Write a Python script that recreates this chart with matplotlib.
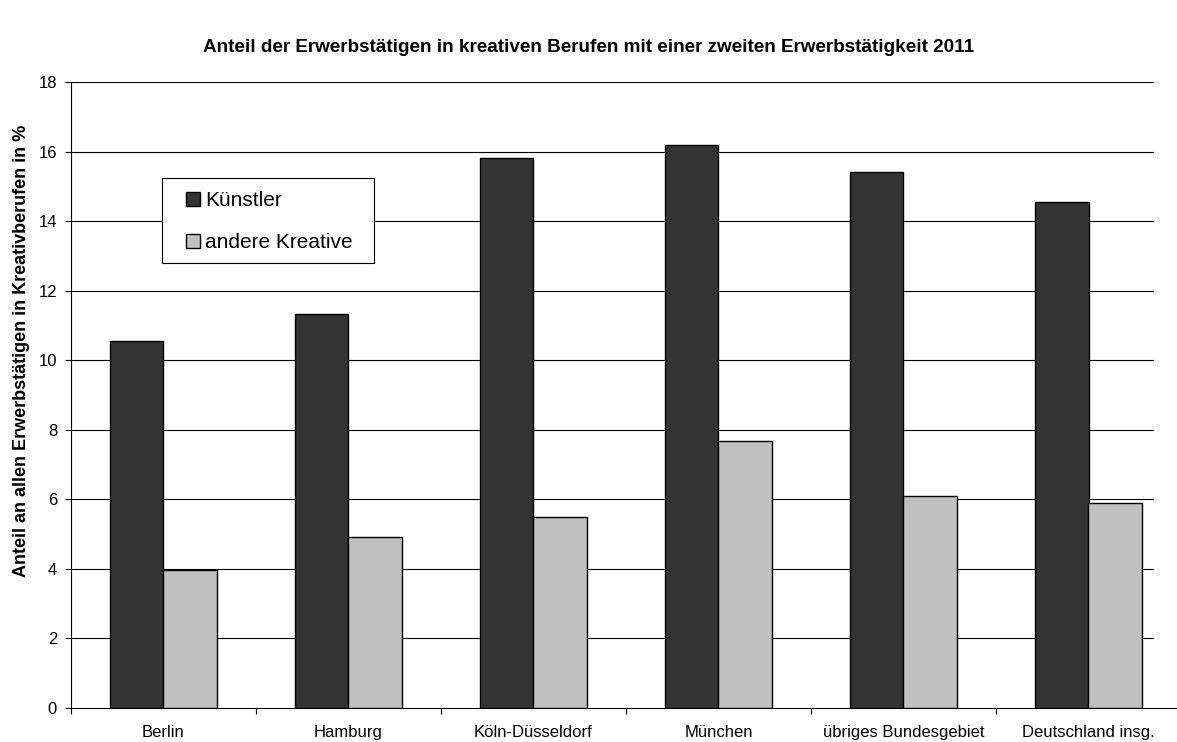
import numpy as np
import matplotlib
matplotlib.use("Agg")
import matplotlib.pyplot as plt
from matplotlib.patches import Rectangle

plt.rcParams['font.family'] = ['Liberation Sans', 'DejaVu Sans']

regionen = ['Berlin', 'Hamburg', 'Köln-Düsseldorf', 'München',
            'übriges Bundesgebiet', 'Deutschland insg.']
kuenstler = [10.55, 11.33, 15.81, 16.2, 15.42, 14.54]
andere = [3.97, 4.92, 5.49, 7.67, 6.11, 5.89]

W, H = 1177, 742
fig = plt.figure(figsize=(W / 100, H / 100), dpi=100)
# the chart is cropped on the right in the original, so the axes runs past the edge
ax = fig.add_axes([71 / W, 34 / H, 1110 / W, 626 / H])

x = np.arange(len(regionen))
w = 0.29
ax.bar(x - w / 2, kuenstler, w, color='#333333', edgecolor='black', linewidth=1,
       label='Künstler', zorder=3)
ax.bar(x + w / 2, andere, w, color='#c0c0c0', edgecolor='black', linewidth=1,
       label='andere Kreative', zorder=3)

ax.set_xlim(-0.5, len(regionen) - 0.5)
ax.set_ylim(0, 18)
ax.set_yticks(range(0, 19, 2))
for yv in range(2, 19, 2):
    ax.axhline(yv, xmin=0, xmax=(1153 - 71) / 1110, color='black', linewidth=0.8, zorder=0)

# x ticks on category boundaries, labels centred below groups
ax.set_xticks(np.arange(-0.5, len(regionen)))
ax.set_xticklabels([])
ax.set_xticks(x, minor=True)
ax.set_xticklabels(regionen, minor=True, fontsize=12)
ax.tick_params(axis='x', which='minor', length=0, pad=12)
ax.tick_params(axis='x', which='major', length=4, direction='out')
ax.tick_params(axis='y', length=4, direction='out', labelsize=12, pad=6)

for s in ['top', 'right']:
    ax.spines[s].set_visible(False)

ax.set_ylabel('Anteil an allen Erwerbstätigen in Kreativberufen in %',
              fontsize=13, fontweight='bold')
ax.yaxis.set_label_coords(-0.037, 0.57)
fig.text(0.5, 1 - 47 / H,
         'Anteil der Erwerbstätigen in kreativen Berufen mit einer zweiten Erwerbstätigkeit 2011',
         ha='center', va='center', fontsize=13.6, fontweight='bold')

# legend box drawn by hand (Excel-style padding)
box = Rectangle((162 / W, 1 - 263 / H), 212 / W, 85 / H, transform=fig.transFigure,
                facecolor='white', edgecolor='black', linewidth=0.8,
                zorder=5, clip_on=False)
ax.add_patch(box)
leg = ax.legend(loc='upper left', bbox_to_anchor=(186 / W, 1 - 191 / H),
                bbox_transform=fig.transFigure, fontsize=15, frameon=False,
                handlelength=0.67, handleheight=0.67, handletextpad=0.25,
                labelspacing=1.12, borderpad=0, borderaxespad=0)
leg.set_zorder(6)

fig.savefig('out.png', dpi=100)
